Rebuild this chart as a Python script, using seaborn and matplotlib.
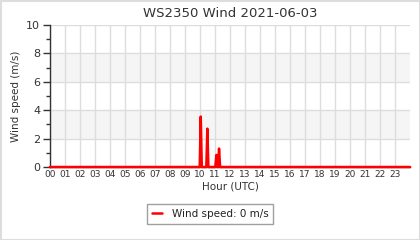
import matplotlib
matplotlib.use("Agg")
import matplotlib.pyplot as plt
import seaborn as sns
import pandas as pd
from matplotlib.patches import Rectangle

# Data (hours UTC, wind speed m/s)
hours = [0.0, 9.98, 10.05, 10.12, 10.42, 10.49, 10.56, 11.02, 11.09, 11.15, 11.20, 11.27, 11.34, 24.0]
speed = [0.0, 0.0, 3.55, 0.0, 0.0, 2.7, 0.0, 0.0, 0.85, 0.0, 0.0, 1.3, 0.0, 0.0]
hour_labels = [f"{h:02d}" for h in range(24)]
y_ticks = [0, 2, 4, 6, 8, 10]
title = "WS2350 Wind 2021-06-03"
legend_label = "Wind speed: 0 m/s"

df = pd.DataFrame({"hour": hours, "speed": speed})

sns.set_style("white")
plt.rcParams['font.family'] = ['DejaVu Sans']

fig = plt.figure(figsize=(4.2, 2.4), dpi=100)
ax = fig.add_axes([50/420, 1-167/240, 360/420, 142/240])

# alternating bands
for lo in [2, 6]:
    ax.axhspan(lo, lo + 2, color="#f5f5f5", zorder=0, lw=0)

sns.lineplot(data=df, x="hour", y="speed", ax=ax, color="#ff0000", lw=1.8,
             label=legend_label, zorder=3, clip_on=False)

ax.set_xlim(0, 24)
ax.set_ylim(0, 10)
ax.set_xticks(range(24))
ax.set_xticklabels(hour_labels, fontsize=6.5, color="#333333")
ax.set_yticks(y_ticks)
ax.set_yticklabels([str(v) for v in y_ticks], fontsize=8, color="#333333")
ax.set_yticks([1, 3, 5, 7, 9], minor=True)
ax.tick_params(axis="x", length=0, pad=2)
ax.tick_params(axis="y", which="major", length=5, width=1, color="#333333", pad=2, direction="out", left=True)
ax.tick_params(axis="y", which="minor", length=3, width=1, color="#333333", direction="out", left=True)

ax.grid(True, axis="both", which="major", color="#dddddd", lw=1, zorder=1)
ax.set_axisbelow(True)

for s in ["top", "right"]:
    ax.spines[s].set_visible(False)
ax.spines["left"].set_color("#333333")
ax.spines["bottom"].set_color("#333333")
ax.spines["left"].set_linewidth(1)
ax.spines["bottom"].set_linewidth(1)

ax.set_xlabel("Hour (UTC)", fontsize=7.5, color="#333333", labelpad=2)
ax.set_ylabel("Wind speed (m/s)", fontsize=7.5, color="#333333", labelpad=4)
ax.set_title(title, fontsize=9.5, color="#333333", pad=6)

leg = ax.legend(loc="center", bbox_to_anchor=(210/420, 1-214/240), bbox_transform=fig.transFigure,
                frameon=True, fontsize=7.5, handlelength=1.0, fancybox=False,
                borderpad=0.5, handletextpad=0.9)
leg.get_frame().set_edgecolor("#888888")
leg.get_frame().set_linewidth(1)
for t in leg.get_texts():
    t.set_color("#222222")

fig.patches.append(Rectangle((0.5/420, 0.5/240), 1-1/420, 1-1/240, transform=fig.transFigure,
                             fill=False, edgecolor="#dddddd", lw=1.5))

fig.savefig("out.png", dpi=100)
